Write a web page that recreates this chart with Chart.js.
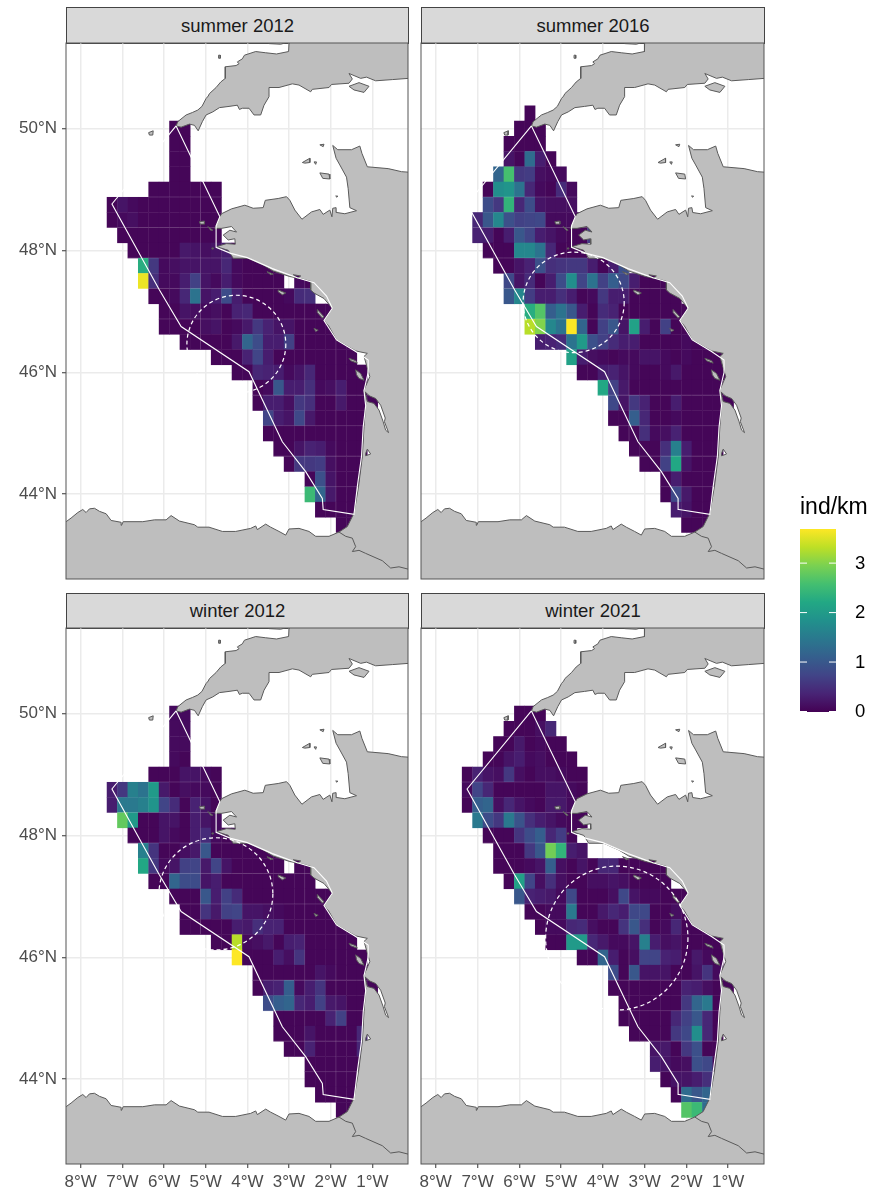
<!DOCTYPE html>
<html>
<head>
<meta charset="utf-8">
<script src="https://cdn.jsdelivr.net/npm/chart.js@4/dist/chart.umd.min.js"></script>
<style>
  html, body { margin: 0; background: #fff; }
  body { position: relative; width: 871px; height: 1192px; overflow: hidden; font-family: "Liberation Sans", Arial, sans-serif; }
  canvas { position: absolute; }
  .strip { position: absolute; box-sizing: border-box; background: #d9d9d9; border: 1px solid #444; color: #1a1a1a;
           font-size: 18.5px; text-align: center; }
</style>
</head>
<body>
<script>
const panelTitles = ["summer 2012", "summer 2016", "winter 2012", "winter 2021"];
const lonTicks = [-8, -7, -6, -5, -4, -3, -2, -1];
const latTicks = [44, 46, 48, 50];
const colorTicks = [0, 1, 2, 3];
const colorMax = 3.7;

const viridis = ["#440154", "#482475", "#414487", "#355f8d", "#2a788e", "#21918c", "#22a884", "#44bf70", "#7ad151", "#bddf26", "#fde725"];

// tile rows, top to bottom, each one [lon of first tile, values...]
const rowLats = [50.25, 50, 49.75, 49.5, 49.25, 49, 48.75, 48.5, 48.25, 48, 47.75, 47.5, 47.25, 47, 46.75, 46.5, 46.25, 46, 45.75, 45.5, 45.25, 45, 44.75, 44.5, 44.25, 44, 43.75, 43.5];

const summer2012 = [
  [],
  [-5.75, .05, .05],
  [-5.75, .05, .05],
  [-5.75, .05, .05],
  [-5.75, .05, .05],
  [-6.25, .05, .05, .05, .05, .05, .05, .05],
  [-7.25, .05, .2, .1, .05, .05, .05, .05, .05, .05, .05, .05],
  [-7.25, .05, .1, .15, .05, .05, .05, .05, .05, .05, .05, .05],
  [-7, .05, .05, .05, .05, .05, .05, .05, .05, .05, .05],
  [-6.75, .05, .05, .05, .05, .05, .25, .2, .15, .2, .3, .05],
  [-6.5, 2.3, .6, .1, .15, .2, .2, .2, .2, .4, .1, .05, .05, .05, .05],
  [-6.5, 3.6, .5, .1, .1, .3, .7, .2, .1, .3, .1, .05, .05, .05, .05, null, .1, .05],
  [-6.25, .05, .05, .1, .4, 1.4, .2, .3, .85, .3, .05, .05, .05, .05, .1, .45, .5],
  [-6, .05, .05, .2, .15, .1, .15, .05, .35, .4, .05, .05, .05, .05, .05, .05, .05, .05],
  [-6, .05, .05, .05, .05, .15, .2, .05, .1, .25, .6, .35, .2, .2, .05, .05, .05, .05],
  [-5.5, .05, .05, .05, .05, .05, .25, 1.2, .85, .3, .3, .7, .05, .05, .05, .05, .05, .05],
  [-4.75, .05, .05, .05, .35, .75, .3, .05, .05, .05, .05, .05, .05, .05, .05],
  [-4.25, .05, .05, .4, .35, .3, .1, .2, .4, .05, .05, .05, .05, .05],
  [-3.75, .05, .1, 1, .3, .3, .5, .1, .15, .3, .05, .05],
  [-3.75, .05, .3, .3, .15, .6, .5, .05, .05, .25, .05, .05, .05],
  [-3.5, .75, .3, .2, .8, .25, .05, .05, .05, .05, .05],
  [-3.5, .05, .05, .05, .05, .05, .05, .05, .05, .05, .05],
  [-3.25, .05, .05, .2, .35, .3, .1, .05, .05, .05],
  [-3, .05, .6, .6, .65, .15, .05, .05, .05],
  [-2.5, .05, .9, .2, .05, .05, .05],
  [-2.5, 2.5, 1.2, .25, .05, .05],
  [-2.25, .05, .05, .05, .05],
  [-1.75, .05, .05]
];

const summer2016 = [
  [-5.75, .05],
  [-6, .05, .05, .05],
  [-6.25, .05, .05, .05, .05],
  [-6.25, .2, .05, 1.3, .3, .05],
  [-6.5, 1.2, 2.6, .6, .65, .15, .1, .1],
  [-6.75, .05, 1.8, 1.9, 1.4, .4, .1, .05, .45, .1],
  [-6.75, .85, .6, 2.4, .4, .85, .2, .15, .15, .15],
  [-7, .4, 1, 1.7, .9, .7, .75, .8, .1, .1, .1, .05],
  [-7, .35, .3, .05, .3, 1, .75, .3, .2, .1, .05, .05, .65],
  [-6.75, .05, .05, .05, 1.7, 1.7, 1.4, .4, .05, .05, .05],
  [-6.5, .05, .05, .2, .35, .9, .5, .55, .6, .6, .3, .05, .3, .9],
  [-6.25, .8, .2, .45, .05, .3, .85, 1.8, .75, 1.4, .7, 1.1, .8, .3, .05, .05, .05],
  [-6.25, 1, 1.7, .65, .3, .3, .5, .3, .05, .1, .6, .3, .3, .05, .05, .05, .05, .05],
  [-5.75, 2.3, 2.7, 1.1, 1.4, 1, .3, .05, .45, .35, .05, .05, .05, .05, .05, .05, .05],
  [-5.75, 3.3, 3, 1.7, 1.4, 3.7, 1.2, .05, .7, 1, .2, 2.1, .3, .05, .7, .05, .05, .05],
  [-5.5, .3, .35, .45, 1.4, 2, .9, .7, .45, .3, .3, .05, .05, .05, .05, .1, .05, .05],
  [-4.75, 2.1, .3, .15, .1, .05, .1, .1, .2, .2, .1, .05, .1, .05, .05, .05],
  [-4.5, .05, .05, .3, .35, .2, .1, .05, .05, .1, .25, .05, .05, .05, .05, .05],
  [-4, 2.2, .7, .25, .05, .05, .05, .05, .05, .05, .05, .05, .05],
  [-3.75, .8, .2, .6, .35, .05, .05, .3, .05, .05, .05, .05, .05],
  [-3.75, .05, .05, 1.1, .4, .05, .05, .1, .05, .05, .05, .05],
  [-3.5, .05, .05, .5, .1, .15, .35, .05, .05, .05, .05],
  [-3.25, .05, .05, .05, .5, 1.6, .3, .05, .05, .05],
  [-3, .05, .05, .7, 2.2, .2, .05, .05, .05],
  [-2.5, .05, .3, .05, .05, .05, .05],
  [-2.5, .05, .8, .25, .05, .05],
  [-2.25, .3, .2, .05, .05],
  [-2, .05, .05, .05]
];

const winter2012 = [
  [],
  [-5.75, .1, .1],
  [-5.75, .1, .1],
  [-5.75, .1, .1],
  [-5.75, .1, .05],
  [-6.25, .05, .05, .05, .2, .2, .1, .05],
  [-7.25, .3, .6, 1.6, 1.4, 2, .25, .05, .15, .1, .1, .05],
  [-7.25, .3, 1.5, 1.5, 1.6, 1.9, .75, .45, .05, .35, .2, .05],
  [-7, 2.8, 2, .05, .05, .2, .2, .05, .3, .2, .1],
  [-6.75, .05, .05, .05, .2, .1, .05, .3, .45, .1, .05, .1],
  [-6.5, 1.6, .55, .05, .05, .15, .25, 1, .05, .05, .05, .05, .05, .05, .05],
  [-6.5, 2.2, .6, .1, .2, .7, .75, .25, .75, .2, .05, .05, .05, .05, .05, null, .05, .05],
  [-6.25, .05, .05, 1.2, .85, .85, .2, .3, .05, .05, .05, .05, .05, .05, .05, .05, .05],
  [-5.75, .05, .05, .05, 1, .3, .7, .45, .05, .05, .05, .05, .05, .05, .05, .05, .05],
  [-5.5, .05, .05, .55, .25, .7, .75, .2, .2, .15, .1, .05, .05, .05, .05, .05, .05],
  [-5.5, .05, .05, .05, .05, .05, .3, .25, .5, .35, .35, .05, .05, .05, .05, .05, .05, .05],
  [-4.75, .05, .05, 3.3, .1, .15, .25, .05, .3, .35, .05, .05, .05, .05, .05],
  [-4.25, 3.7, .05, .05, .05, .3, .15, .55, .05, .05, .05, .05, .05, .05],
  [-3.75, .05, .05, .05, .05, .05, .05, .2, .1, .05, .05, .05, .05],
  [-3.75, .05, .3, .35, 1.1, .1, .3, .55, .05, .05, .05, .05, .05],
  [-3.5, .85, 1.1, 1.2, .4, .3, .7, .25, .2, .05, .05],
  [-3.25, .05, .05, .05, .05, .05, .35, .7, .05, .05],
  [-3.25, .05, .05, .05, .2, .05, .05, .05, .05, .4],
  [-3, .05, .05, .35, .05, .05, .05, .05, .4],
  [-2.5, .05, .05, .05, .05, .05, .05],
  [-2.5, .05, .05, .05, .05, .05],
  [-2.25, .05, .05, .05, .05],
  [-1.75, .05, .05]
];

const winter2021 = [
  [],
  [-6, .05, .05, .05],
  [-6.25, .05, .05, .05, .15, .4],
  [-6.5, .05, .05, .25, .05, .1, .05, .05],
  [-6.75, .05, .05, .2, .3, .1, .15, .05, .05, .05],
  [-7.25, .05, .35, .2, .15, .6, .15, .05, .15, .15, .1, .05, .05],
  [-7.25, .1, .75, .4, .05, .05, .05, .05, .05, .2, .2, .1, .05],
  [-7.25, .05, 1.1, 1.2, .15, .4, .2, .1, .05, .25, .25, .1, .05],
  [-7, 1.5, .85, .6, 1.5, .95, .5, .3, .2, .1, .05, .05],
  [-6.75, .05, .05, .05, .55, .85, 1.1, .4, .65, .05],
  [-6.5, .05, .05, .05, .6, 1, 2.9, 2.4, .3, .2],
  [-6.5, .05, .05, .05, .1, .2, 1.1, .15, .05, .2, .05, .4, .4, .05, .05, .05, .05, .05],
  [-6.25, .05, 2.1, .75, .15, .5, .15, .05, .05, .15, .15, .2, .15, .05, .05, .05, .05],
  [-6, 1, .35, .3, .25, .1, .8, .05, .05, .05, .15, .8, .2, .1, .1, .05, .05, .05],
  [-5.75, .05, .05, .1, .1, 1.5, .05, .05, .25, .4, .3, .8, .8, .05, .05, .15, .05, .05],
  [-5.5, .05, .1, .1, .4, .45, .15, .05, .05, .55, 1, .5, .05, .1, .4, .05, .05, .05],
  [-5.25, .05, .05, 2, 2, .4, .25, .1, .1, .2, 1.6, .3, .15, .2, .05, .05, .05, .05, .05],
  [-4.5, .05, .05, 1.2, .3, .05, .15, .75, .75, .35, .3, .05, .25, .1, .05],
  [-3.75, .85, .05, 1, .2, .2, .2, .05, .05, .2, .55, .1],
  [-3.75, .05, .05, .05, .05, .05, .05, .05, .35, .3, .15, .05, .05],
  [-3.5, .05, .05, .05, .05, .05, .05, .6, 1.2, 1.5, .05],
  [-3.5, .05, .05, .05, .05, .05, .4, .7, 1, .4, .05],
  [-3.25, .05, .05, .05, .05, .6, .8, 1.8, .4, .05],
  [-2.75, .2, .25, .05, .6, .9, .05, .05],
  [-2.75, .3, .2, .1, .15, .9, .8, .05],
  [-2.5, .05, .2, .2, .3, .5],
  [-2.25, .05, 1.3, 1, 1.2],
  [-2, 2.7, 2.5, 1.3]
];

const seamLats = [48.875, 48.375, 47.875, 47.375, 46.875, 45.625, 45.125, 44.625, 44.125];
const seamLons = [[-5.125, -2.625, -1.875], [-3.375], [-5.125, -2.625, -1.875], [-3.375]];

// dashed circles: centre lon, centre lat, radius in degrees lon and lat
const circleLons = [-4.264, -4.70, -4.755, -3.667];
const circleLats = [46.46, 47.146, 47.04, 46.315];
const circleRadLon = [1.187, 1.21, 1.367, 1.703];
const circleRadLat = [0.803, 0.825, 0.92, 1.18];

const britain = [[-3, 51.45], [-3, 51.39], [-3.01, 51.26], [-3.3, 51.22], [-3.56, 51.24], [-3.8, 51.26], [-4.07, 51.2], [-4.12, 51.14], [-4.24, 51.09], [-4.2, 51.06], [-4.27, 51.03], [-4.53, 51.01], [-4.53, 50.82], [-4.64, 50.76], [-4.75, 50.67], [-4.91, 50.57], [-4.94, 50.53], [-4.99, 50.49], [-5.09, 50.36], [-5.19, 50.3], [-5.32, 50.26], [-5.47, 50.22], [-5.67, 50.11], [-5.71, 50.04], [-5.59, 50.02], [-5.39, 50.07], [-5.27, 50.05], [-5.18, 49.96], [-5.08, 50.11], [-4.99, 50.22], [-4.83, 50.27], [-4.67, 50.34], [-4.44, 50.36], [-4.24, 50.38], [-4.19, 50.31], [-4.12, 50.33], [-3.96, 50.33], [-3.84, 50.22], [-3.68, 50.22], [-3.6, 50.38], [-3.48, 50.52], [-3.48, 50.67], [-3.24, 50.67], [-2.92, 50.73], [-2.76, 50.71], [-2.48, 50.6], [-2.44, 50.64], [-2.04, 50.67], [-1.98, 50.72], [-1.56, 50.74], [-1.48, 50.81], [-1.56, 50.9], [-1.28, 50.82], [-1.14, 50.84], [-0.92, 50.78], [-0.52, 50.8], [-0.13, 50.82], [-0.1, 50.82], [-0.1, 51.45]];
const wales = [[-3.48, 51.39], [-3.2, 51.38], [-3.1, 51.4], [-3.1, 51.45], [-3.48, 51.45]];
const wight = [[-1.56, 50.69], [-1.32, 50.75], [-1.08, 50.69], [-1.2, 50.59], [-1.44, 50.63]];
const france = [[-0.1, 49.28], [-0.3, 49.29], [-0.62, 49.34], [-1.12, 49.37], [-1.25, 49.59], [-1.3, 49.71], [-1.5, 49.65], [-1.83, 49.65], [-1.95, 49.72], [-1.87, 49.51], [-1.78, 49.4], [-1.62, 49.2], [-1.58, 49.01], [-1.54, 48.7], [-1.38, 48.65], [-1.66, 48.6], [-1.85, 48.62], [-1.87, 48.7], [-1.95, 48.69], [-1.97, 48.55], [-2.02, 48.66], [-2.18, 48.59], [-2.26, 48.67], [-2.46, 48.63], [-2.69, 48.51], [-2.86, 48.66], [-2.98, 48.82], [-3.06, 48.88], [-3.26, 48.85], [-3.57, 48.82], [-3.62, 48.7], [-3.86, 48.69], [-4.06, 48.74], [-4.38, 48.68], [-4.62, 48.6], [-4.66, 48.55], [-4.78, 48.36], [-4.62, 48.36], [-4.38, 48.39], [-4.26, 48.3], [-4.42, 48.33], [-4.58, 48.25], [-4.46, 48.17], [-4.3, 48.19], [-4.29, 48.1], [-4.5, 48.11], [-4.74, 48.06], [-4.46, 48], [-4.34, 47.87], [-3.98, 47.87], [-3.62, 47.76], [-3.38, 47.66], [-2.98, 47.57], [-2.74, 47.54], [-2.48, 47.49], [-2.48, 47.35], [-2.4, 47.3], [-2.16, 47.21], [-1.96, 47.05], [-2.16, 46.85], [-2.04, 46.75], [-1.86, 46.53], [-1.4, 46.35], [-1.12, 46.31], [-1.2, 46.26], [-1.12, 46.07], [-1.06, 45.93], [-1.2, 45.71], [-1.16, 45.49], [-1.2, 45.11], [-1.24, 44.62], [-1.33, 44.13], [-1.44, 43.69], [-1.6, 43.47], [-1.8, 43.38], [-2.04, 43.31], [-2.36, 43.31], [-2.52, 43.39], [-2.76, 43.44], [-3, 43.43], [-3.08, 43.33], [-3.24, 43.39], [-3.44, 43.46], [-3.56, 43.51], [-3.76, 43.42], [-3.8, 43.48], [-3.92, 43.44], [-4.28, 43.39], [-4.6, 43.39], [-4.92, 43.46], [-5.19, 43.46], [-5.27, 43.5], [-5.63, 43.56], [-5.83, 43.65], [-5.95, 43.58], [-6.23, 43.58], [-6.51, 43.55], [-6.98, 43.55], [-7.02, 43.49], [-7.03, 43.54], [-7.27, 43.57], [-7.39, 43.68], [-7.55, 43.72], [-7.67, 43.77], [-7.79, 43.76], [-7.87, 43.7], [-7.95, 43.75], [-8.07, 43.7], [-8.23, 43.61], [-8.35, 43.55], [-8.7, 43.5], [-8.7, 42.4], [-0.1, 42.4]];
const gironde = [[-1.18, 45.68], [-1.06, 45.61], [-0.92, 45.57], [-0.8, 45.46], [-0.69, 45.25], [-0.71, 45.19], [-0.61, 45.01], [-0.68, 45.05], [-0.74, 45.19], [-0.84, 45.38], [-0.96, 45.49], [-1.12, 45.52]];
const arcachon = [[-1.16, 44.67], [-1.12, 44.74], [-1.04, 44.66], [-1.16, 44.63]];
const islands = [
  [[-6.37, 49.93], [-6.26, 49.96], [-6.27, 49.89], [-6.35, 49.89]],
  [[-4.69, 51.2], [-4.65, 51.2], [-4.65, 51.15], [-4.69, 51.15]],
  [[-2.26, 49.73], [-2.16, 49.74], [-2.18, 49.7]],
  [[-2.68, 49.44], [-2.5, 49.51], [-2.5, 49.44], [-2.62, 49.43]],
  [[-2.4, 49.45], [-2.34, 49.45], [-2.36, 49.41]],
  [[-2.26, 49.27], [-2.04, 49.25], [-2.02, 49.17], [-2.19, 49.18]],
  [[-1.88, 48.89], [-1.83, 48.89], [-1.85, 48.87]],
  [[-5.15, 48.47], [-5.03, 48.48], [-5.03, 48.43], [-5.13, 48.43]],
  [[-4.95, 48.39], [-4.83, 48.33], [-4.88, 48.33]],
  [[-4.85, 48.04], [-4.82, 48.04], [-4.82, 48.02], [-4.85, 48.02]],
  [[-3.53, 47.65], [-3.38, 47.61], [-3.44, 47.6]],
  [[-3.26, 47.35], [-3.08, 47.3], [-3.16, 47.27], [-3.26, 47.32]],
  [[-2.9, 47.6], [-2.72, 47.58], [-2.8, 47.54]],
  [[-2.32, 47.03], [-2.16, 46.91], [-2.2, 46.89], [-2.32, 46.98]],
  [[-2.4, 46.72], [-2.3, 46.69], [-2.36, 46.67]],
  [[-1.56, 46.23], [-1.4, 46.19], [-1.36, 46.15], [-1.52, 46.19]],
  [[-1.4, 46.04], [-1.28, 45.98], [-1.2, 45.87], [-1.32, 45.9], [-1.38, 45.96]]
];
const spainBorder = [[-1.8, 43.38], [-1.64, 43.31], [-1.48, 43.28], [-1.4, 43.14], [-1.48, 43.06], [-1.32, 43.08], [-1.16, 43.03], [-0.76, 42.91], [-0.56, 42.79], [-0.36, 42.81], [-0.13, 42.77]];
const surveyArea = [[-5.71, 50.04], [-4.66, 48.55], [-4.75, 48.4], [-4.75, 48.05], [-4.4, 47.95], [-4, 47.88], [-3.4, 47.7], [-2.8, 47.55], [-2.4, 47.47], [-2.1, 47.25], [-1.96, 47.05], [-2.16, 46.85], [-1.86, 46.53], [-1.4, 46.34], [-1.1, 46.2], [-1.1, 46], [-1.2, 45.7], [-1.16, 45.45], [-1.22, 45.1], [-1.26, 44.62], [-1.36, 44.13], [-1.44, 43.67], [-2.18, 43.75], [-2.2, 43.93], [-2.6, 44.37], [-3.16, 44.86], [-3.96, 46.01], [-5.59, 46.75], [-6.11, 47.35], [-7.25, 48.76], [-5.71, 50.04]];

const panelTiles = [summer2012, summer2016, winter2012, winter2021];

const landPolys = [britain, wales, wight, france, gironde, arcachon, ...islands];

const viridisAt = (v) => {
  const t = Math.min(Math.max(v / colorMax, 0), 1) * (viridis.length - 1);
  const i = Math.min(Math.floor(t), viridis.length - 2);
  const hex = (c, k) => parseInt(c.slice(k, k + 2), 16);
  const mix = [1, 3, 5].map((k) => Math.round(hex(viridis[i], k) * (1 - t + i) + hex(viridis[i + 1], k) * (t - i)));
  return `rgb(${mix.join(",")})`;
};

const toPoints = (poly) => poly.map(([x, y]) => ({ x, y }));
const closed = (poly) => toPoints(poly.concat([poly[0]]));

// ticks labels must not push the plot area around
const noPadding = (s) => {
  s.paddingTop = 0;
  s.paddingBottom = 0;
  s.paddingLeft = 0;
  s.paddingRight = 0;
};

const mapLayers = (idx) => ({
  id: "mapLayers",
  beforeDatasetsDraw(chart) {
    const { ctx, chartArea, scales: { x, y } } = chart;
    ctx.save();
    ctx.beginPath();
    ctx.rect(chartArea.left, chartArea.top, chartArea.width, chartArea.height);
    ctx.clip();
    panelTiles[idx].forEach((row, r) => {
      const lat = rowLats[r];
      row.slice(1).forEach((v, c) => {
        if (v === null) return;
        const lon = row[0] + c * 0.25;
        const x0 = x.getPixelForValue(lon - 0.125);
        const x1 = x.getPixelForValue(lon + 0.125);
        const y0 = y.getPixelForValue(lat + 0.125);
        const y1 = y.getPixelForValue(lat - 0.125);
        ctx.fillStyle = viridisAt(v);
        ctx.fillRect(x0, y0, x1 - x0 + 0.4, y1 - y0 + 0.4);
      });
    });
    // faint seams between tile strips
    ctx.strokeStyle = "rgba(255,255,255,0.16)";
    ctx.lineWidth = 1;
    panelTiles[idx].forEach((row, r) => {
      const lat = rowLats[r];
      row.slice(1).forEach((v, c) => {
        if (v === null) return;
        const lon = row[0] + c * 0.25;
        const x0 = x.getPixelForValue(lon - 0.125);
        const x1 = x.getPixelForValue(lon + 0.125);
        const y0 = y.getPixelForValue(lat + 0.125);
        const y1 = y.getPixelForValue(lat - 0.125);
        ctx.beginPath();
        if (seamLats.includes(lat - 0.125)) { ctx.moveTo(x0, y1); ctx.lineTo(x1, y1); }
        if (seamLons[idx].includes(lon + 0.125)) { ctx.moveTo(x1, y0); ctx.lineTo(x1, y1); }
        ctx.stroke();
      });
    });
    // land goes over the tiles, estuaries stay open
    ctx.beginPath();
    landPolys.forEach((poly) => {
      poly.forEach(([lon, lat], i) => {
        const px = x.getPixelForValue(lon);
        const py = y.getPixelForValue(lat);
        if (i === 0) ctx.moveTo(px, py); else ctx.lineTo(px, py);
      });
      ctx.closePath();
    });
    ctx.fillStyle = "#bebebe";
    ctx.fill("evenodd");
    ctx.restore();
  },
  afterDatasetsDraw(chart) {
    const { ctx, chartArea, scales: { x, y } } = chart;
    const cx = x.getPixelForValue(circleLons[idx]);
    const cy = y.getPixelForValue(circleLats[idx]);
    const rx = Math.abs(x.getPixelForValue(circleLons[idx] + circleRadLon[idx]) - cx);
    const ry = Math.abs(y.getPixelForValue(circleLats[idx] + circleRadLat[idx]) - cy);
    ctx.save();
    ctx.strokeStyle = "#fff";
    ctx.lineWidth = 1.2;
    ctx.setLineDash([4, 3]);
    ctx.beginPath();
    ctx.ellipse(cx, cy, rx, ry, 0, 0, Math.PI * 2);
    ctx.stroke();
    ctx.setLineDash([]);
    ctx.lineWidth = 1;
    ctx.strokeStyle = "#555";
    ctx.strokeRect(chartArea.left, chartArea.top, chartArea.width, chartArea.height);
    ctx.restore();
  },
});

const addCanvas = (left, top, width, height) => {
  const el = document.createElement("canvas");
  el.width = width;
  el.height = height;
  el.style.left = left + "px";
  el.style.top = top + "px";
  document.body.appendChild(el);
  return el;
};

const coastSet = (poly, color) => ({
  data: closed(poly),
  showLine: true,
  borderColor: color,
  borderWidth: 1,
  pointRadius: 0,
  fill: false,
});

const mapChart = (idx, showLon, showLat) => {
  const left = idx % 2 === 0 ? 0 : 420;
  const plotLeft = idx % 2 === 0 ? 66 : 421;
  const plotWidth = idx % 2 === 0 ? 342 : 343;
  const top = idx < 2 ? 42 : 627;
  const bottomAxis = showLon ? 28 : 0;
  const width = plotLeft - left + plotWidth + 1;
  const height = 1 + 536 + Math.max(bottomAxis, 1);
  const tickFont = { family: "'Liberation Sans'", size: 17 };

  const strip = document.createElement("div");
  strip.className = "strip";
  strip.textContent = panelTitles[idx];
  strip.style.cssText = `left:${plotLeft}px;top:${idx < 2 ? 7 : 593}px;width:${plotWidth + 1}px;height:${idx < 2 ? 37 : 36}px;line-height:${idx < 2 ? 35 : 34}px`;
  document.body.appendChild(strip);

  return new Chart(addCanvas(left, top, width, height), {
    type: "scatter",
    data: {
      datasets: [
        ...landPolys.map((p) => coastSet(p, "#5a5a5a")),
        { data: toPoints(spainBorder), showLine: true, borderColor: "#5a5a5a", borderWidth: 1, pointRadius: 0 },
        { data: toPoints(surveyArea), showLine: true, borderColor: "#ffffff", borderWidth: 1.1, pointRadius: 0, order: -1 },
      ],
    },
    options: {
      responsive: false,
      animation: false,
      layout: {
        autoPadding: false,
        padding: { top: 1, right: 1, left: idx % 2 === 0 ? 0 : 1, bottom: showLon ? 0 : 1 },
      },
      plugins: { legend: { display: false }, tooltip: { enabled: false } },
      scales: {
        x: {
          type: "linear",
          min: -8.353,
          max: -0.144,
          afterBuildTicks: (s) => { s.ticks = lonTicks.map((value) => ({ value })); },
          afterFit: (s) => { s.height = bottomAxis; noPadding(s); },
          border: { display: false },
          grid: { color: "#ebebeb", lineWidth: 1.5, tickColor: "#333", tickLength: 4, tickWidth: 1, drawTicks: showLon },
          ticks: {
            display: showLon,
            color: "#4d4d4d",
            font: tickFont,
            padding: 4,
            maxRotation: 0,
            autoSkip: false,
            callback: (v) => `${-v}°W`,
          },
        },
        y: {
          type: "linear",
          min: 42.61,
          max: 51.4,
          afterBuildTicks: (s) => { s.ticks = latTicks.map((value) => ({ value })); },
          afterFit: (s) => { s.width = showLat ? 66 : 0; noPadding(s); },
          border: { display: false },
          grid: { color: "#ebebeb", lineWidth: 1.5, tickColor: "#333", tickLength: 4, tickWidth: 1, drawTicks: showLat },
          ticks: {
            display: showLat,
            color: "#4d4d4d",
            font: tickFont,
            padding: 5,
            autoSkip: false,
            callback: (v) => `${v}°N`,
          },
        },
      },
    },
    plugins: [mapLayers(idx)],
  });
};

mapChart(0, false, true);
mapChart(1, false, false);
mapChart(2, true, true);
mapChart(3, true, false);

const colorBarTicks = {
  id: "colorBarTicks",
  afterDatasetsDraw(chart) {
    const { ctx, chartArea, scales: { y } } = chart;
    ctx.save();
    ctx.strokeStyle = "#fff";
    ctx.lineWidth = 1;
    colorTicks.forEach((v) => {
      const py = y.getPixelForValue(v) - 0.5;
      ctx.beginPath();
      ctx.moveTo(chartArea.left, py);
      ctx.lineTo(chartArea.left + 7, py);
      ctx.moveTo(chartArea.right - 7, py);
      ctx.lineTo(chartArea.right, py);
      ctx.stroke();
    });
    ctx.restore();
  },
};

new Chart(addCanvas(800, 494, 71, 231), {
  type: "bar",
  data: {
    labels: ["ind/km"],
    datasets: [{
      data: [[0, colorMax]],
      barPercentage: 1,
      categoryPercentage: 1,
      backgroundColor: (c) => {
        const { ctx, chartArea } = c.chart;
        if (!chartArea) return viridis[0];
        const g = ctx.createLinearGradient(0, chartArea.bottom, 0, chartArea.top);
        viridis.forEach((col, i) => g.addColorStop(i / (viridis.length - 1), col));
        return g;
      },
    }],
  },
  options: {
    responsive: false,
    animation: false,
    layout: { autoPadding: false, padding: { bottom: 13 } },
    plugins: {
      legend: { display: false },
      tooltip: { enabled: false },
      title: {
        display: true,
        text: "ind/km",
        align: "start",
        color: "#000",
        font: { family: "'Liberation Sans'", size: 23, weight: "normal" },
        padding: { top: 0, bottom: 7.4 },
      },
    },
    scales: {
      x: { display: false },
      y: {
        position: "right",
        min: 0,
        max: colorMax,
        afterBuildTicks: (s) => { s.ticks = colorTicks.map((value) => ({ value })); },
        afterFit: (s) => { s.width = 35; noPadding(s); },
        border: { display: false },
        grid: { display: false },
        ticks: { color: "#000", font: { family: "'Liberation Sans'", size: 18.5 }, padding: 11, autoSkip: false },
      },
    },
  },
  plugins: [colorBarTicks],
});
</script>
</body>
</html>
